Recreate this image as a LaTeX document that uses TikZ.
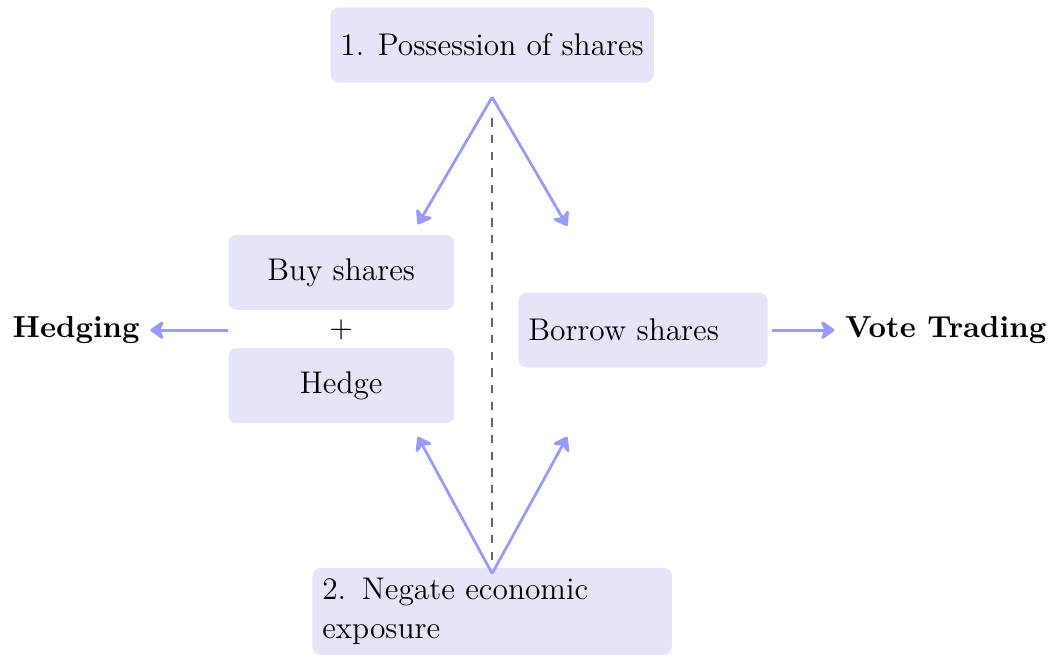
\documentclass[tikz,border=0pt,11pt]{standalone}
\usepackage{xcolor}
\usepackage{tikz}
\usetikzlibrary{arrows.meta,positioning}
\definecolor{boxbg}{RGB}{229,229,250}
\definecolor{flowcolor}{RGB}{153,153,255}
\tikzset{
  stepbox/.style={fill=boxbg,rounded corners=3pt,minimum height=0.95cm,inner sep=3.6pt},
  flowarrow/.style={-{Stealth[length=2mm,width=2.8mm,inset=0.6mm,round]},draw=flowcolor,line width=1pt},
  splitline/.style={draw=black!60,dashed,line width=0.6pt}
}

\begin{document}
\begin{tikzpicture}[font=\fontsize{11.3}{14.2}\selectfont]
  \useasboundingbox (-6.23,-4.11) rectangle (7.1,4.18);

  % --- Two conditions ---
  \node[stepbox] (own) at (0,3.61) {1. Possession of shares};
  \node[stepbox,text width=4.3cm,align=left] (negate) at (0,-3.56)
    {2. Negate economic\\exposure};

  % --- Left branch ---
  \node (plus) at (-1.91,0) {$+$};
  \node[stepbox,minimum width=2.86cm,above=0.25cm of plus.center] (buy) {Buy shares};
  \node[stepbox,minimum width=2.86cm,below=0.22cm of plus.center] (hedge) {Hedge};
  \coordinate (pair) at (buy.west |- plus);

  % --- Right branch ---
  \node[stepbox,text width=2.9cm,align=left] (borrow) at (1.91,0) {Borrow shares};

  % --- Outcomes ---
  \node[font=\bfseries,left=0.98cm of pair] (hedging) {Hedging};
  \node[font=\bfseries,right=0.84cm of borrow] (vote) {Vote Trading};

  % --- Fork points ---
  \coordinate (upfork) at (0,2.95);
  \coordinate (upleft) at (-0.94,1.34);
  \coordinate (upright) at (0.95,1.32);
  \coordinate (lowfork) at (0,-3.08);
  \coordinate (lowleft) at (-0.94,-1.35);
  \coordinate (lowright) at (0.95,-1.35);
  \coordinate (splittop) at (0,2.68);
  \coordinate (splitbot) at (0,-2.98);

  \draw[splitline] (splittop) -- (splitbot);

  \draw[flowarrow] (upfork) -- (upleft);
  \draw[flowarrow] (upfork) -- (upright);
  \draw[flowarrow] (lowfork) -- (lowleft);
  \draw[flowarrow] (lowfork) -- (lowright);

  \draw[flowarrow] (pair) -- (hedging);
  \draw[flowarrow,shorten <=0.05cm] (borrow) -- (vote);

\end{tikzpicture}
\end{document}
